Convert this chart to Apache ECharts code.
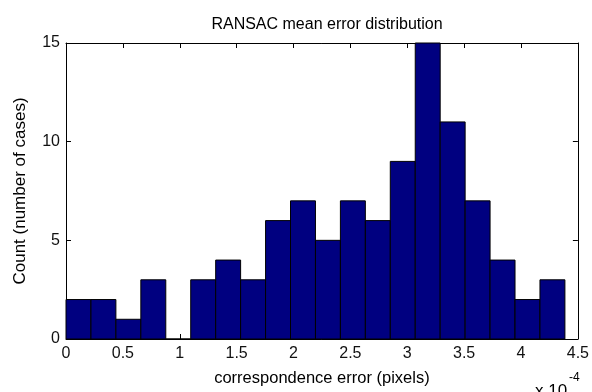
<!DOCTYPE html>
<html><head><meta charset="utf-8">
<script src="https://cdn.jsdelivr.net/npm/echarts@6/dist/echarts.min.js"></script>
<style>html,body{margin:0;padding:0;background:#fff}#c{width:592px;height:392px}</style>
</head><body><div id="c"></div>
<script>
// histogram counts (20 bins), x in units of 1e-4 pixels
var counts = [2, 2, 1, 3, 0, 3, 4, 3, 6, 7, 5, 7, 6, 9, 15, 11, 7, 4, 2, 3];
var binMin = 0.0;
var binMax = 4.386;
var xTicks = [0, 0.5, 1, 1.5, 2, 2.5, 3, 3.5, 4, 4.5];
var yTicks = [0, 5, 10, 15];
var title = 'RANSAC mean error distribution';
var xLabel = 'correspondence error (pixels)';
var yLabel = 'Count (number of cases)';

var binW = (binMax - binMin) / counts.length;
var data = counts.map(function (c, i) {
  return [binMin + i * binW, binMin + (i + 1) * binW, c];
});
var font = 'Liberation Sans, Arial, sans-serif';
var chart = echarts.init(document.getElementById('c'));
function mkAxis(extra) {
  var a = {
    type: 'value',
    axisLine: { show: true, onZero: false, lineStyle: { color: '#000', width: 1 } },
    axisTick: { show: true, inside: true, length: 5, lineStyle: { color: '#000', width: 1 } },
    splitLine: { show: false }
  };
  for (var k in extra) a[k] = extra[k];
  return a;
}
chart.setOption({
  animation: false,
  title: {
    text: title, left: 322, top: 12, textAlign: 'center',
    textStyle: { fontFamily: font, fontSize: 16, fontWeight: 'normal', color: '#000' }
  },
  grid: { left: 66, right: 13, top: 43, bottom: 49 },
  xAxis: [
    mkAxis({
      min: xTicks[0], max: xTicks[xTicks.length - 1], interval: 0.5, position: 'bottom',
      axisLabel: { fontFamily: font, fontSize: 16, color: '#111', margin: 7 },
      name: xLabel, nameLocation: 'middle', nameGap: 31,
      nameTextStyle: { fontFamily: font, fontSize: 16.5, color: '#000' }
    }),
    mkAxis({
      min: xTicks[0], max: xTicks[xTicks.length - 1], interval: 0.5, position: 'top',
      axisLabel: { show: false }
    })
  ],
  yAxis: [
    mkAxis({
      min: yTicks[0], max: yTicks[yTicks.length - 1], interval: 5, position: 'left',
      axisLabel: { fontFamily: font, fontSize: 16, color: '#111', margin: 6 },
      name: yLabel, nameLocation: 'middle', nameGap: 37, nameRotate: 90,
      nameTextStyle: { fontFamily: font, fontSize: 17, color: '#000' }
    }),
    mkAxis({
      min: yTicks[0], max: yTicks[yTicks.length - 1], interval: 5, position: 'right',
      axisLabel: { show: false }
    })
  ],
  graphic: [
    { type: 'text', left: 535, top: 383, style: { text: 'x 10', fontFamily: font, fontSize: 17, fill: '#000' } },
    { type: 'text', left: 569, top: 372, style: { text: '-4', fontFamily: font, fontSize: 12, fill: '#000' } }
  ],
  series: [{
    type: 'custom',
    xAxisIndex: 0, yAxisIndex: 0,
    data: data,
    encode: { x: [0, 1], y: 2 },
    renderItem: function (params, api) {
      var p0 = api.coord([api.value(0), 0]);
      var p1 = api.coord([api.value(1), api.value(2)]);
      return {
        type: 'rect',
        shape: { x: p0[0], y: p1[1], width: p1[0] - p0[0], height: p0[1] - p1[1] },
        style: { fill: '#000080', stroke: '#000', lineWidth: 1 }
      };
    }
  }]
});
</script></body></html>
